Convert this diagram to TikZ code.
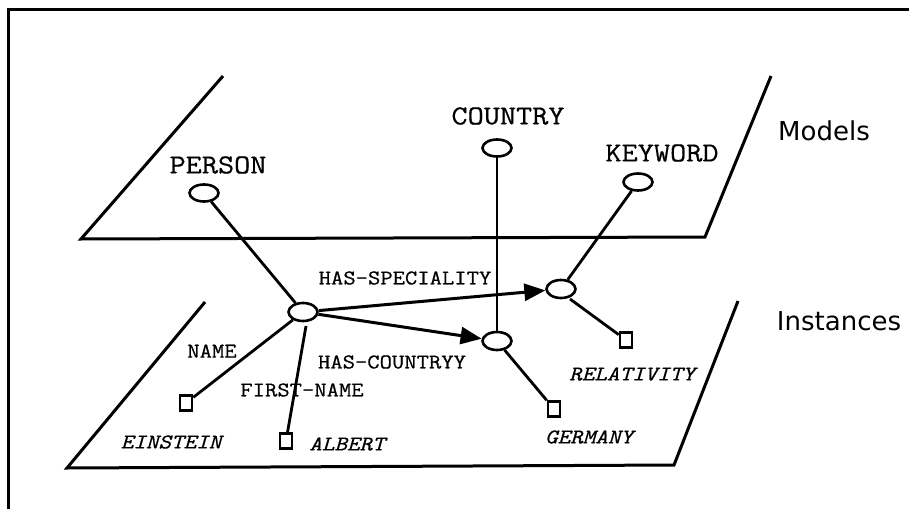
\documentclass[tikz,border=0pt]{standalone}
\usepackage{fontspec}
\newfontfamily\cour[FakeStretch=1.14,FakeBold=0.6]{Latin Modern Mono}
\newfontfamily\labelsans{DejaVu Sans}
\usetikzlibrary{arrows.meta,shapes.geometric}
\tikzset{
  plane/.style={line width=3pt, line join=miter},
  frame/.style={line width=3pt},
  cls/.style={draw, ellipse, line width=2.6pt, minimum width=29pt, minimum height=17pt, inner sep=0pt},
  inst/.style={draw, ellipse, line width=2.6pt, minimum width=29pt, minimum height=18pt, inner sep=0pt},
  val/.style={draw, rectangle, line width=2.6pt, minimum width=12pt, minimum height=15pt, inner sep=0pt},
  conn/.style={line width=2.8pt},
  thin conn/.style={line width=2.2pt},
  rel/.style={line width=3pt, -{Triangle[length=21pt,width=17pt]}},
  big/.style={font=\cour\fontsize{27.5}{30}\selectfont, inner sep=0pt},
  small/.style={font=\cour\fontsize{21}{24}\selectfont, inner sep=0pt},
  smallit/.style={font=\cour\fontsize{21}{24}\selectfont\itshape, inner sep=0pt},
  side/.style={font=\labelsans\fontsize{26}{30}\selectfont, inner sep=0pt}
}
\begin{document}
\begin{tikzpicture}[x=1pt,y=-1pt]
\useasboundingbox (0,0) rectangle (909,508);
\fill[white] (0,0) rectangle (909,508);
% frame
\draw[frame] (8,520) -- (8,10) -- (920,10);
% planes
\draw[plane] (223,76) -- (81,239) -- (705,237) -- (771,76);
\draw[plane] (205,302) -- (67,468) -- (674,465) -- (738,301);
% side labels
\node[side] (models) at (824,131) {Models};
\node[side] (instances) at (839,321) {Instances};
% class nodes
\node[cls] (person) at (204,193) {};
\node[big] (personlbl) at (218,165) {PERSON};
\node[cls] (country) at (497,148) {};
\node[big] (countrylbl) at (508,116) {COUNTRY};
\node[cls] (keyword) at (638,182) {};
\node[big] (keywordlbl) at (662,153) {KEYWORD};
% instance nodes
\node[inst] (einst) at (303,312) {};
\node[inst] (kinst) at (561,289) {};
\node[inst] (cinst) at (497,341) {};
% value nodes
\node[val] (vein) at (186,403) {};
\node[val] (valb) at (286,441) {};
\node[val] (vger) at (554,409) {};
\node[val] (vrel) at (626,340) {};
% connectors
\draw[conn] (person) -- (einst);
\draw[thin conn] (country) -- (cinst);
\draw[conn] (keyword) -- (kinst);
\draw[rel] (einst) -- (kinst);
\draw[rel] (einst) -- (cinst);
\draw[conn] (einst) -- (vein);
\coordinate (albstart) at (306,326);
\draw[conn] (albstart) -- (valb);
\coordinate (relstart) at (570,299);
\draw[conn] (relstart) -- (vrel);
\draw[conn] (cinst) -- (vger);
% labels
\node[small] (hasspec) at (405,278) {HAS-SPECIALITY};
\node[small] (hascount) at (392,362) {HAS-COUNTRYY};
\node[small] (namelbl) at (212,351) {NAME};
\node[small] (fnlbl) at (302,390) {FIRST-NAME};
\node[smallit] (einlbl) at (171,442) {EINSTEIN};
\node[smallit] (alblbl) at (347,444) {ALBERT};
\node[smallit] (gerlbl) at (589,437) {GERMANY};
\node[smallit] (rellbl) at (632,374) {RELATIVITY};
\end{tikzpicture}
\end{document}
